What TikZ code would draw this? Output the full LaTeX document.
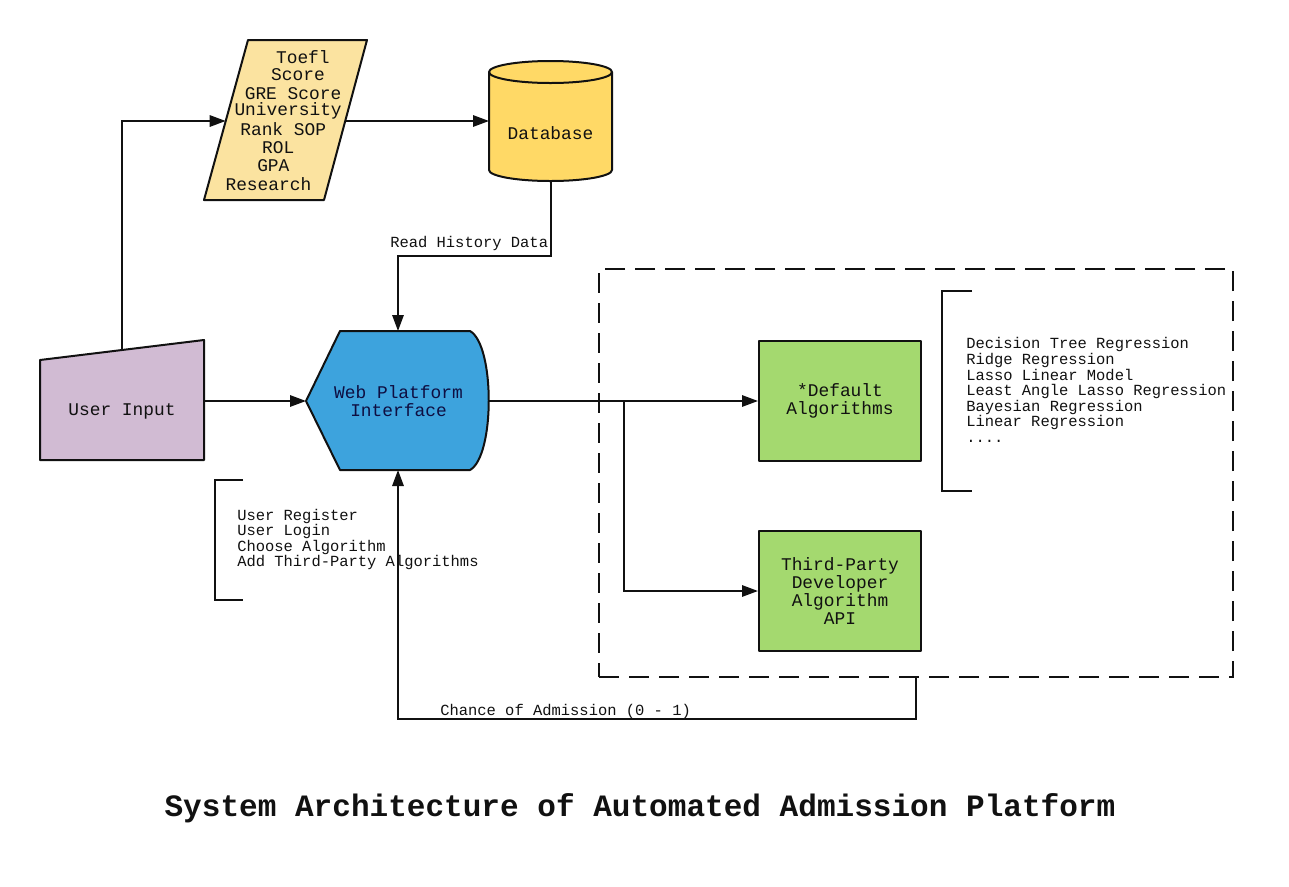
\documentclass[tikz,border=0pt]{standalone}
\usepackage{fontspec}
\setmainfont{Liberation Mono}
\usetikzlibrary{arrows.meta}
\definecolor{formfill}{HTML}{FBE3A0}
\definecolor{dbfill}{HTML}{FFD966}
\definecolor{userfill}{HTML}{D1BBD3}
\definecolor{webfill}{HTML}{3DA3DD}
\definecolor{algfill}{HTML}{A4D96F}
\definecolor{ink}{HTML}{111111}
\begin{document}
\begin{tikzpicture}[x=0.75pt,y=-0.75pt,
  outline/.style={draw=ink, line width=1.5pt, line join=round},
  conn/.style={draw=ink, line width=1.5pt, -{Triangle[length=12pt,width=8.5pt]}},
  plain/.style={draw=ink, line width=1.5pt},
  small/.style={font=\fontsize{11.6pt}{11.7pt}\selectfont, inner sep=0pt, text=ink},
  big/.style={font=\fontsize{13.4pt}{13.5pt}\selectfont, inner sep=0pt, text=ink, align=center},
  algbox/.style={outline, fill=algfill, minimum width=121.5pt, minimum height=90pt,
    font=\fontsize{13.4pt}{13.5pt}\selectfont, text=ink, align=center, inner sep=0pt}]

\useasboundingbox (0,0) rectangle (1289,886);
\fill[white] (0,0) rectangle (1289,886);

% --- input form (parallelogram) ---
\draw[outline, fill=formfill] (248,40) -- (367,40) -- (324,200) -- (204,200) -- cycle;
\foreach \txt [count=\i] in {Toefl, Score, GRE Score, University, Rank SOP, ROL, GPA, Research} {
  \pgfmathsetmacro{\yy}{57+(\i-1)*18.1}
  \pgfmathsetmacro{\xx}{307.5-43.5*(\yy-40)/160}
  \node[big] (form\i) at (\xx,\yy) {\txt};
}
\coordinate (form-left) at (225.7,121);
\coordinate (form-right) at (345,121);

% --- database (cylinder) ---
\draw[outline, fill=dbfill] (489,72) -- (489,170)
  arc[start angle=180, end angle=0, x radius=61.5, y radius=11]
  -- (612,72) arc[start angle=0, end angle=-180, x radius=61.5, y radius=11] -- cycle;
\draw[outline] (489,72) arc[start angle=180, end angle=0, x radius=61.5, y radius=11];
\node[big] (db) at (550.5,133) {Database};
\coordinate (db-left) at (489,121);
\coordinate (db-bot) at (550.5,181);

% --- user input (manual input) ---
\draw[outline, fill=userfill] (40,360) -- (204,340) -- (204,460) -- (40,460) -- cycle;
\node[big] (user) at (122,411) {User Input};
\coordinate (user-top) at (122,350);
\coordinate (user-right) at (204,401);

% --- web platform (display) ---
\draw[outline, fill=webfill] (306,401) -- (340,331) -- (470,331)
  .. controls (495,345) and (495,456) .. (470,470) -- (340,470) -- cycle;
\node[big, text=ink!80!blue] (web) at (398.5,401) {Web Platform\\Interface};
\coordinate (web-left) at (306,401);
\coordinate (web-right) at (489,401);
\coordinate (web-top) at (398,331);
\coordinate (web-bot) at (398,470);

% --- algorithm group ---
\node[draw=ink, line width=1.5pt, dash pattern=on 15pt off 7.5pt,
  minimum width=475.5pt, minimum height=306pt, inner sep=0pt] (group) at (916,473) {};
\node[algbox] (def) at (840,401) {*Default\\Algorithms};
\node[algbox] (api) at (840,591) {Third-Party\\Developer\\Algorithm\\API};

% --- annotation brackets ---
\draw[plain] (972,291) -- (942,291) -- (942,491) -- (972,491);
\node[small, anchor=west, align=left] (algos) at (966,390) {Decision Tree Regression\\Ridge Regression\\Lasso Linear Model\\Least Angle Lasso Regression\\Bayesian Regression\\Linear Regression\\....};
\draw[plain] (243,480) -- (215,480) -- (215,600) -- (243,600);
\node[small, anchor=west, align=left] (features) at (237,539.5) {User Register\\User Login\\Choose Algorithm\\Add Third-Party Algorithms};

% --- connectors ---
\draw[conn] (user-top) |- (form-left);
\draw[conn] (form-right) -- (db-left);
\coordinate (read-bend) at (550.5,256);
\draw[conn] (db-bot) -- (read-bend) -| (web-top);
\node[small, anchor=west] (readlbl) at (390,243) {Read History Data};
\draw[conn] (user-right) -- (web-left);
\draw[conn] (web-right) -- (def.west);
\coordinate (split) at (624,401);
\draw[conn] (split) |- (api.west);
\coordinate (back-bend) at (916,719);
\draw[conn] (group.south) -- (back-bend) -| (web-bot);
\node[small, anchor=west] (backlbl) at (440,711) {Chance of Admission (0 - 1)};

% --- title ---
\node[font=\fontsize{23.3pt}{24pt}\selectfont\bfseries, text=ink, inner sep=0pt] (title) at (640,808) {System Architecture of Automated Admission Platform};
\end{tikzpicture}
\end{document}
